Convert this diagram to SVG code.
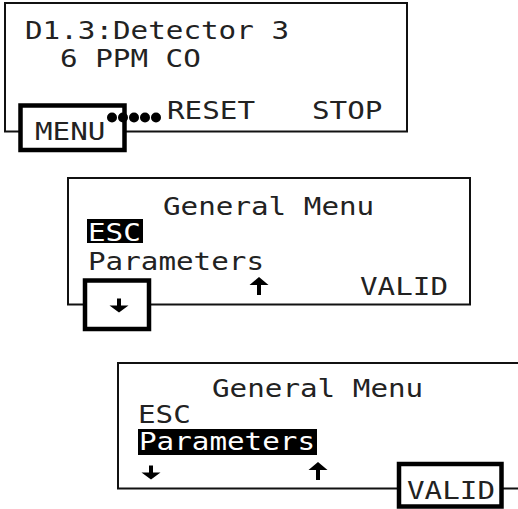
<svg xmlns="http://www.w3.org/2000/svg" width="518" height="509" viewBox="0 0 518 509">
<style>
.panel{fill:none;stroke:#111;stroke-width:2}
.key{fill:#fff;stroke:#000;stroke-width:4.5}
.lcd{font-family:"DejaVu Sans Mono","Liberation Mono",monospace;font-size:24px;fill:#222}
.inv{fill:#fff}
.hl{fill:#000}
.arr{fill:#000}
</style>
<defs>
<path id="down" d="M-2,-14 h4 v7 h7.5 l-9.5,7 l-9.5,-7 h7.5 z"/>
<path id="up" d="M0,0 l9.5,8 h-7.5 v10 h-4 v-10 h-7.5 z"/>
</defs>
<g id="screen1">
<rect class="panel" x="5" y="3" width="402" height="128.5"/>
<text class="lcd" x="25" y="39" textLength="264" lengthAdjust="spacingAndGlyphs">D1.3:Detector 3</text>
<text class="lcd" x="60" y="67" textLength="140.8" lengthAdjust="spacingAndGlyphs">6 PPM CO</text>
<text class="lcd" x="167" y="119" textLength="88" lengthAdjust="spacingAndGlyphs">RESET</text>
<text class="lcd" x="312" y="119" textLength="70.4" lengthAdjust="spacingAndGlyphs">STOP</text>
</g>
<g id="menu-key">
<rect class="key" x="20.5" y="105.5" width="104" height="44.5"/>
<text class="lcd" x="35" y="140" textLength="70.4" lengthAdjust="spacingAndGlyphs">MENU</text>
</g>
<g id="connectors">
<circle cx="112" cy="117.5" r="5"/>
<circle cx="123" cy="117.5" r="5"/>
<circle cx="134" cy="117.5" r="5"/>
<circle cx="145" cy="117.5" r="5"/>
<circle cx="156" cy="117.5" r="5"/>
</g>
<g id="screen2">
<rect class="panel" x="68" y="178" width="402" height="126.5"/>
<text class="lcd" x="163" y="215" textLength="211.2" lengthAdjust="spacingAndGlyphs">General Menu</text>
<rect class="hl" x="87" y="219" width="56" height="24"/>
<text class="lcd inv" x="88" y="241" textLength="52.8" lengthAdjust="spacingAndGlyphs">ESC</text>
<text class="lcd" x="88" y="270" textLength="176" lengthAdjust="spacingAndGlyphs">Parameters</text>
<use href="#up" class="arr" x="259" y="277"/>
<text class="lcd" x="360" y="295" textLength="88" lengthAdjust="spacingAndGlyphs">VALID</text>
</g>
<g id="down-key">
<rect class="key" x="85" y="280.5" width="64" height="48.5"/>
<use href="#down" class="arr" x="119" y="312.5"/>
</g>
<g id="screen3">
<path class="panel" d="M520,363 H118 V488.5 H520"/>
<text class="lcd" x="212" y="397" textLength="211.2" lengthAdjust="spacingAndGlyphs">General Menu</text>
<text class="lcd" x="138" y="423" textLength="52.8" lengthAdjust="spacingAndGlyphs">ESC</text>
<rect class="hl" x="138" y="429" width="179" height="26"/>
<text class="lcd inv" x="139" y="450" textLength="176" lengthAdjust="spacingAndGlyphs">Parameters</text>
<use href="#down" class="arr" x="151" y="479.5"/>
<use href="#up" class="arr" x="318" y="462"/>
</g>
<g id="valid-key">
<rect class="key" x="399" y="464" width="102.5" height="42.5"/>
<text class="lcd" x="407" y="499" textLength="88" lengthAdjust="spacingAndGlyphs">VALID</text>
</g>
</svg>
